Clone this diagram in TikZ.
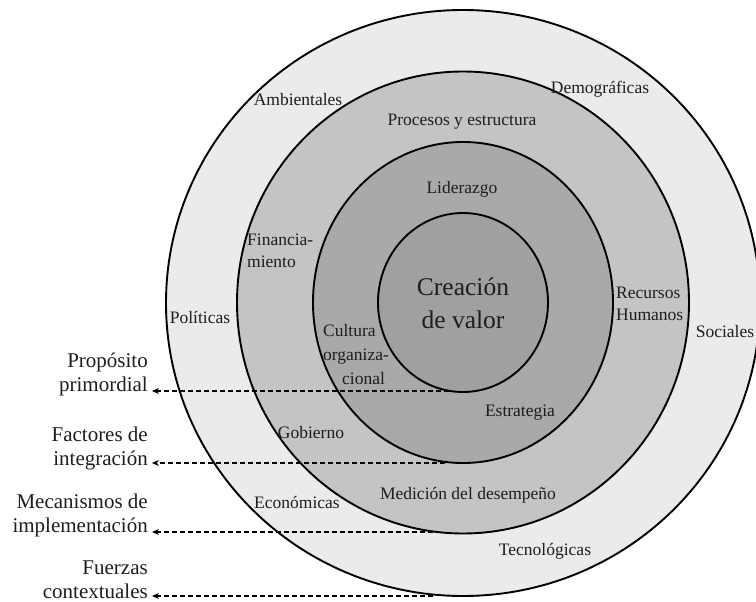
\documentclass[tikz,border=0pt]{standalone}
\usepackage{fontspec}
\setmainfont{Liberation Serif}
\usetikzlibrary{arrows.meta}
\definecolor{ringA}{HTML}{EBEBEB}
\definecolor{ringB}{HTML}{C4C4C4}
\definecolor{ringC}{HTML}{A9A9A9}
\definecolor{ringD}{HTML}{A0A0A0}
\definecolor{txt}{HTML}{1E1E1E}
\begin{document}
\begin{tikzpicture}[x=1pt,y=-1pt,
  ring/.style={draw=black,line width=1.9pt},
  lbl/.style={font=\fontsize{17.5}{22}\selectfont, inner sep=0pt, text=txt},
  side/.style={font=\fontsize{21}{24}\selectfont, inner sep=0pt, align=right, anchor=east, text=txt},
  arr/.style={line width=1.4pt, dash pattern=on 5pt off 3pt, -{Stealth[length=7pt,width=6pt]}}]
\useasboundingbox (0,0) rectangle (756,602);
\clip (0,0) rectangle (756,602);
\fill[white] (0,0) rectangle (756,602);
% rings
\path[ring, fill=ringA] (463,303) ellipse [x radius=297pt, y radius=293pt];
\path[ring, fill=ringB] (463,302.5) ellipse [x radius=226pt, y radius=231pt];
\path[ring, fill=ringC] (463,302.5) ellipse [x radius=150pt, y radius=160.5pt];
\path[ring, fill=ringD] (463,302.5) ellipse [x radius=85pt, y radius=89.5pt];
% centre
\node[lbl, font=\fontsize{25.5}{33}\selectfont, align=center] (cv) at (463,303) {Creación\\de valor};
% ring labels
\node[lbl] (amb) at (298,100) {Ambientales};
\node[lbl] (dem) at (600,89) {Demográficas};
\node[lbl] (proc) at (462,122) {Procesos y estructura};
\node[lbl] (lid) at (462,189) {Liderazgo};
\node[lbl, align=left, anchor=west] (fin) at (247,251) {Financia-\\miento};
\node[lbl] (pol) at (200,318) {Políticas};
\node[lbl, align=left, anchor=west] (rh) at (616,304) {Recursos\\Humanos};
\node[lbl] (soc) at (725,332) {Sociales};
\node[lbl, align=left, anchor=west, font=\fontsize{17.5}{24}\selectfont] (cult) at (323,355) {Cultura\\organiza-\\\hspace*{19pt}cional};
\node[lbl] (est) at (520,413) {Estrategia};
\node[lbl] (gob) at (311,433) {Gobierno};
\node[lbl] (eco) at (297,502) {Económicas};
\node[lbl] (med) at (468,495) {Medición del desempeño};
\node[lbl] (tec) at (545,551) {Tecnológicas};
% side labels
\node[side] (p1) at (148,374) {Propósito\\primordial};
\node[side] (p2) at (148,448) {Factores de\\integración};
\node[side] (p3) at (148,515) {Mecanismos de\\implementación};
\node[side] (p4) at (148,580) {Fuerzas\\contextuales};
% connector ends
\coordinate (c1) at (449,391);
\coordinate (c2) at (445,463);
\coordinate (c3) at (433,532);
\coordinate (c4) at (433,596);
\coordinate (t1) at (152,391);
\coordinate (t2) at (152,463);
\coordinate (t3) at (152,532);
\coordinate (t4) at (152,596);
\draw[arr] (c1) -- (t1);
\draw[arr] (c2) -- (t2);
\draw[arr] (c3) -- (t3);
\draw[arr] (c4) -- (t4);
\end{tikzpicture}
\end{document}
